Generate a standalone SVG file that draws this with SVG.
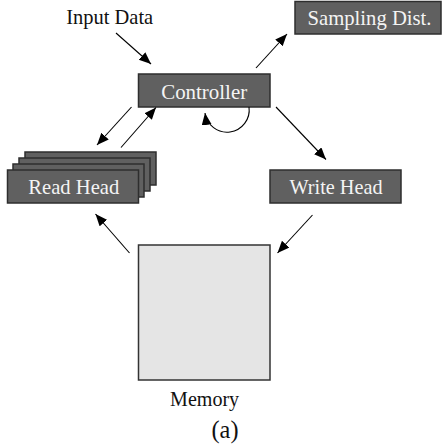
<svg xmlns="http://www.w3.org/2000/svg" width="442" height="446" viewBox="0 0 442 446">
<defs>
<marker id="ah" markerUnits="userSpaceOnUse" markerWidth="13" markerHeight="11" refX="12" refY="5" orient="auto">
<path d="M0,0 L12,5 L0,10 z" fill="#000"/>
</marker>
<style>
text{font-family:'Liberation Serif','DejaVu Serif',serif;font-size:22px;text-anchor:middle}
.box{fill:#606060;stroke:#2e2e2e;stroke-width:1.5}
.mem{fill:#e5e5e5;stroke:#333;stroke-width:1.5}
.lt{fill:#f4f4f4}
.dt{fill:#111}
.c{fill:none;stroke:#000;stroke-width:1.1;marker-end:url(#ah)}
</style>
</defs>
<rect width="442" height="446" fill="#fff"/>
<g id="input-data"><text class="dt" x="109.7" y="24" textLength="87" lengthAdjust="spacingAndGlyphs">Input Data</text></g>
<g id="sampling-dist"><rect class="box" x="295" y="1.5" width="146" height="32.5"/><text class="lt" x="369.5" y="24.5" textLength="124" lengthAdjust="spacingAndGlyphs">Sampling Dist.</text></g>
<g id="controller"><rect class="box" x="138.5" y="74" width="131.5" height="33"/><text class="lt" x="204.2" y="98.5" textLength="86" lengthAdjust="spacingAndGlyphs">Controller</text></g>
<g id="read-head">
<rect class="box" x="25" y="152" width="131" height="33"/>
<rect class="box" x="19" y="158" width="131" height="33"/>
<rect class="box" x="13" y="164" width="131" height="33"/>
<rect class="box" x="7.5" y="170" width="131" height="33"/>
<text class="lt" x="73.8" y="194" textLength="91" lengthAdjust="spacingAndGlyphs">Read Head</text>
</g>
<g id="write-head"><rect class="box" x="270" y="170" width="131" height="33"/><text class="lt" x="336" y="194" textLength="93" lengthAdjust="spacingAndGlyphs">Write Head</text></g>
<g id="memory"><rect class="mem" x="138.5" y="245" width="131.5" height="135"/><text class="dt" x="204.6" y="406" textLength="69" lengthAdjust="spacingAndGlyphs">Memory</text></g>
<g id="caption"><text class="dt" x="225" y="438" style="font-size:26px" textLength="27" lengthAdjust="spacingAndGlyphs">(a)</text></g>
<g id="connectors">
<line class="c" x1="116" y1="33" x2="151" y2="64"/>
<line class="c" x1="256" y1="68" x2="287" y2="34"/>
<line class="c" x1="131.5" y1="107" x2="97" y2="145"/>
<line class="c" x1="121" y1="147.5" x2="156" y2="107.5"/>
<path class="c" d="M249,107 A22,22 0 1 1 205,113"/>
<line class="c" x1="276" y1="107" x2="326" y2="159.5"/>
<line class="c" x1="312.5" y1="215" x2="277.5" y2="253"/>
<line class="c" x1="129.5" y1="253" x2="95.5" y2="214"/>
</g>
</svg>
